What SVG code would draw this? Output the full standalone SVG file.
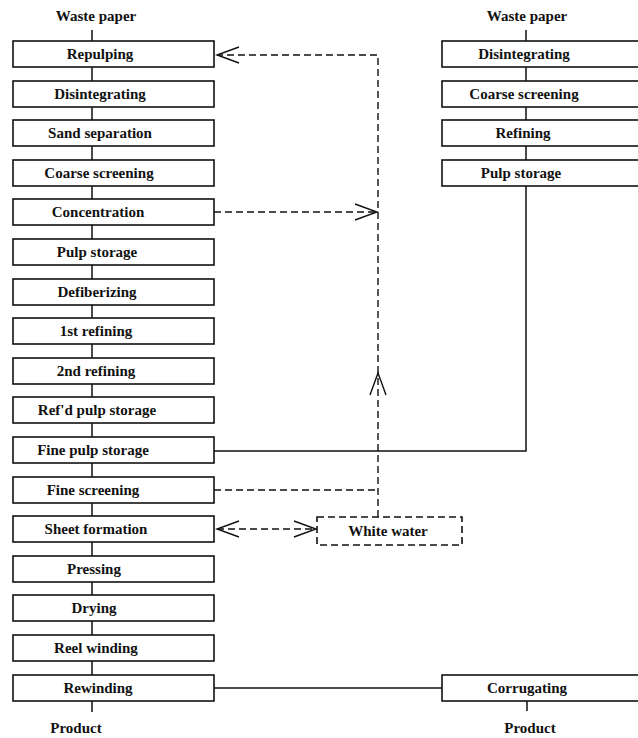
<svg xmlns="http://www.w3.org/2000/svg" width="638" height="738" viewBox="0 0 638 738">
<style>
.box{fill:#fff;stroke:#111;stroke-width:1.6}
.dbox{fill:#fff;stroke:#111;stroke-width:1.6;stroke-dasharray:7 4}
.t{font-family:"Liberation Serif","Times New Roman",serif;font-weight:bold;font-size:15px;fill:#111;text-anchor:middle}
.ln{fill:none;stroke:#111;stroke-width:1.5}
.dl{fill:none;stroke:#111;stroke-width:1.4;stroke-dasharray:7 4}
</style>
<defs>
<marker id="arr" viewBox="-24 -10 26 20" refX="0" refY="0" markerWidth="26" markerHeight="20" markerUnits="userSpaceOnUse" orient="auto-start-reverse">
<path d="M-22,-8 L0,0 L-22,8" fill="none" stroke="#111" stroke-width="1.4"/>
</marker>
</defs>
<rect width="638" height="738" fill="#fff"/>
<g id="connectors">
<path class="ln" d="M92,30V41 M92,67V81 M92,107V120 M92,146V160 M92,186V199 M92,225V239 M92,265V279 M92,305V318 M92,344V358 M92,384V397 M92,423V437 M92,463V477 M92,503V516 M92,542V556 M92,582V595 M92,621V635 M92,661V675 M92,701V712"/>
<path class="ln" d="M526,30V41 M526,67V81 M526,107V120 M526,146V160 M526,186V451 H214"/>
<path class="ln" d="M213,688 H442 M527,701V711"/>
<path class="dl" d="M378,517 V373" marker-end="url(#arr)"/>
<path class="dl" d="M378,373 V55 H217" marker-end="url(#arr)"/>
<path class="dl" d="M214,212 H377" marker-end="url(#arr)"/>
<path class="dl" d="M214,490 H378"/>
<path class="dl" d="M217,529 H316" marker-start="url(#arr)" marker-end="url(#arr)"/>
</g>
<g id="label-waste-left"><text class="t" x="96" y="21">Waste paper</text></g>
<g id="label-waste-right"><text class="t" x="527" y="21">Waste paper</text></g>
<g id="repulping"><rect class="box" x="13" y="41" width="201" height="26"/><text class="t" x="100" y="59">Repulping</text></g>
<g id="disintegrating"><rect class="box" x="13" y="81" width="201" height="26"/><text class="t" x="100" y="99">Disintegrating</text></g>
<g id="sand-separation"><rect class="box" x="13" y="120" width="201" height="26"/><text class="t" x="100" y="138">Sand separation</text></g>
<g id="coarse-screening"><rect class="box" x="13" y="160" width="201" height="26"/><text class="t" x="99" y="178">Coarse screening</text></g>
<g id="concentration"><rect class="box" x="13" y="199" width="201" height="26"/><text class="t" x="98" y="217">Concentration</text></g>
<g id="pulp-storage"><rect class="box" x="13" y="239" width="201" height="26"/><text class="t" x="97" y="257">Pulp storage</text></g>
<g id="defiberizing"><rect class="box" x="13" y="279" width="201" height="26"/><text class="t" x="97" y="297">Defiberizing</text></g>
<g id="refining-1"><rect class="box" x="13" y="318" width="201" height="26"/><text class="t" x="96" y="336">1st refining</text></g>
<g id="refining-2"><rect class="box" x="13" y="358" width="201" height="26"/><text class="t" x="96" y="376">2nd refining</text></g>
<g id="refd-pulp-storage"><rect class="box" x="13" y="397" width="201" height="26"/><text class="t" x="97" y="415">Ref'd pulp storage</text></g>
<g id="fine-pulp-storage"><rect class="box" x="13" y="437" width="201" height="26"/><text class="t" x="93" y="455">Fine pulp storage</text></g>
<g id="fine-screening"><rect class="box" x="13" y="477" width="201" height="26"/><text class="t" x="93" y="495">Fine screening</text></g>
<g id="sheet-formation"><rect class="box" x="13" y="516" width="201" height="26"/><text class="t" x="96" y="534">Sheet formation</text></g>
<g id="pressing"><rect class="box" x="13" y="556" width="201" height="26"/><text class="t" x="94" y="574">Pressing</text></g>
<g id="drying"><rect class="box" x="13" y="595" width="201" height="26"/><text class="t" x="94" y="613">Drying</text></g>
<g id="reel-winding"><rect class="box" x="13" y="635" width="201" height="26"/><text class="t" x="96" y="653">Reel winding</text></g>
<g id="rewinding"><rect class="box" x="13" y="675" width="201" height="26"/><text class="t" x="98" y="693">Rewinding</text></g>
<g id="white-water"><rect class="dbox" x="317" y="517" width="145" height="28"/><text class="t" x="388" y="536">White water</text></g>
<g id="r-disintegrating"><rect class="box" x="442" y="41" width="200" height="26"/><text class="t" x="524" y="59">Disintegrating</text></g>
<g id="r-coarse-screening"><rect class="box" x="442" y="81" width="200" height="26"/><text class="t" x="524" y="99">Coarse screening</text></g>
<g id="r-refining"><rect class="box" x="442" y="120" width="200" height="26"/><text class="t" x="523" y="138">Refining</text></g>
<g id="r-pulp-storage"><rect class="box" x="442" y="160" width="200" height="26"/><text class="t" x="521" y="178">Pulp storage</text></g>
<g id="corrugating"><rect class="box" x="442" y="675" width="200" height="26"/><text class="t" x="527" y="693">Corrugating</text></g>
<g id="label-product-left"><text class="t" x="76" y="733">Product</text></g>
<g id="label-product-right"><text class="t" x="530" y="733">Product</text></g>
</svg>
